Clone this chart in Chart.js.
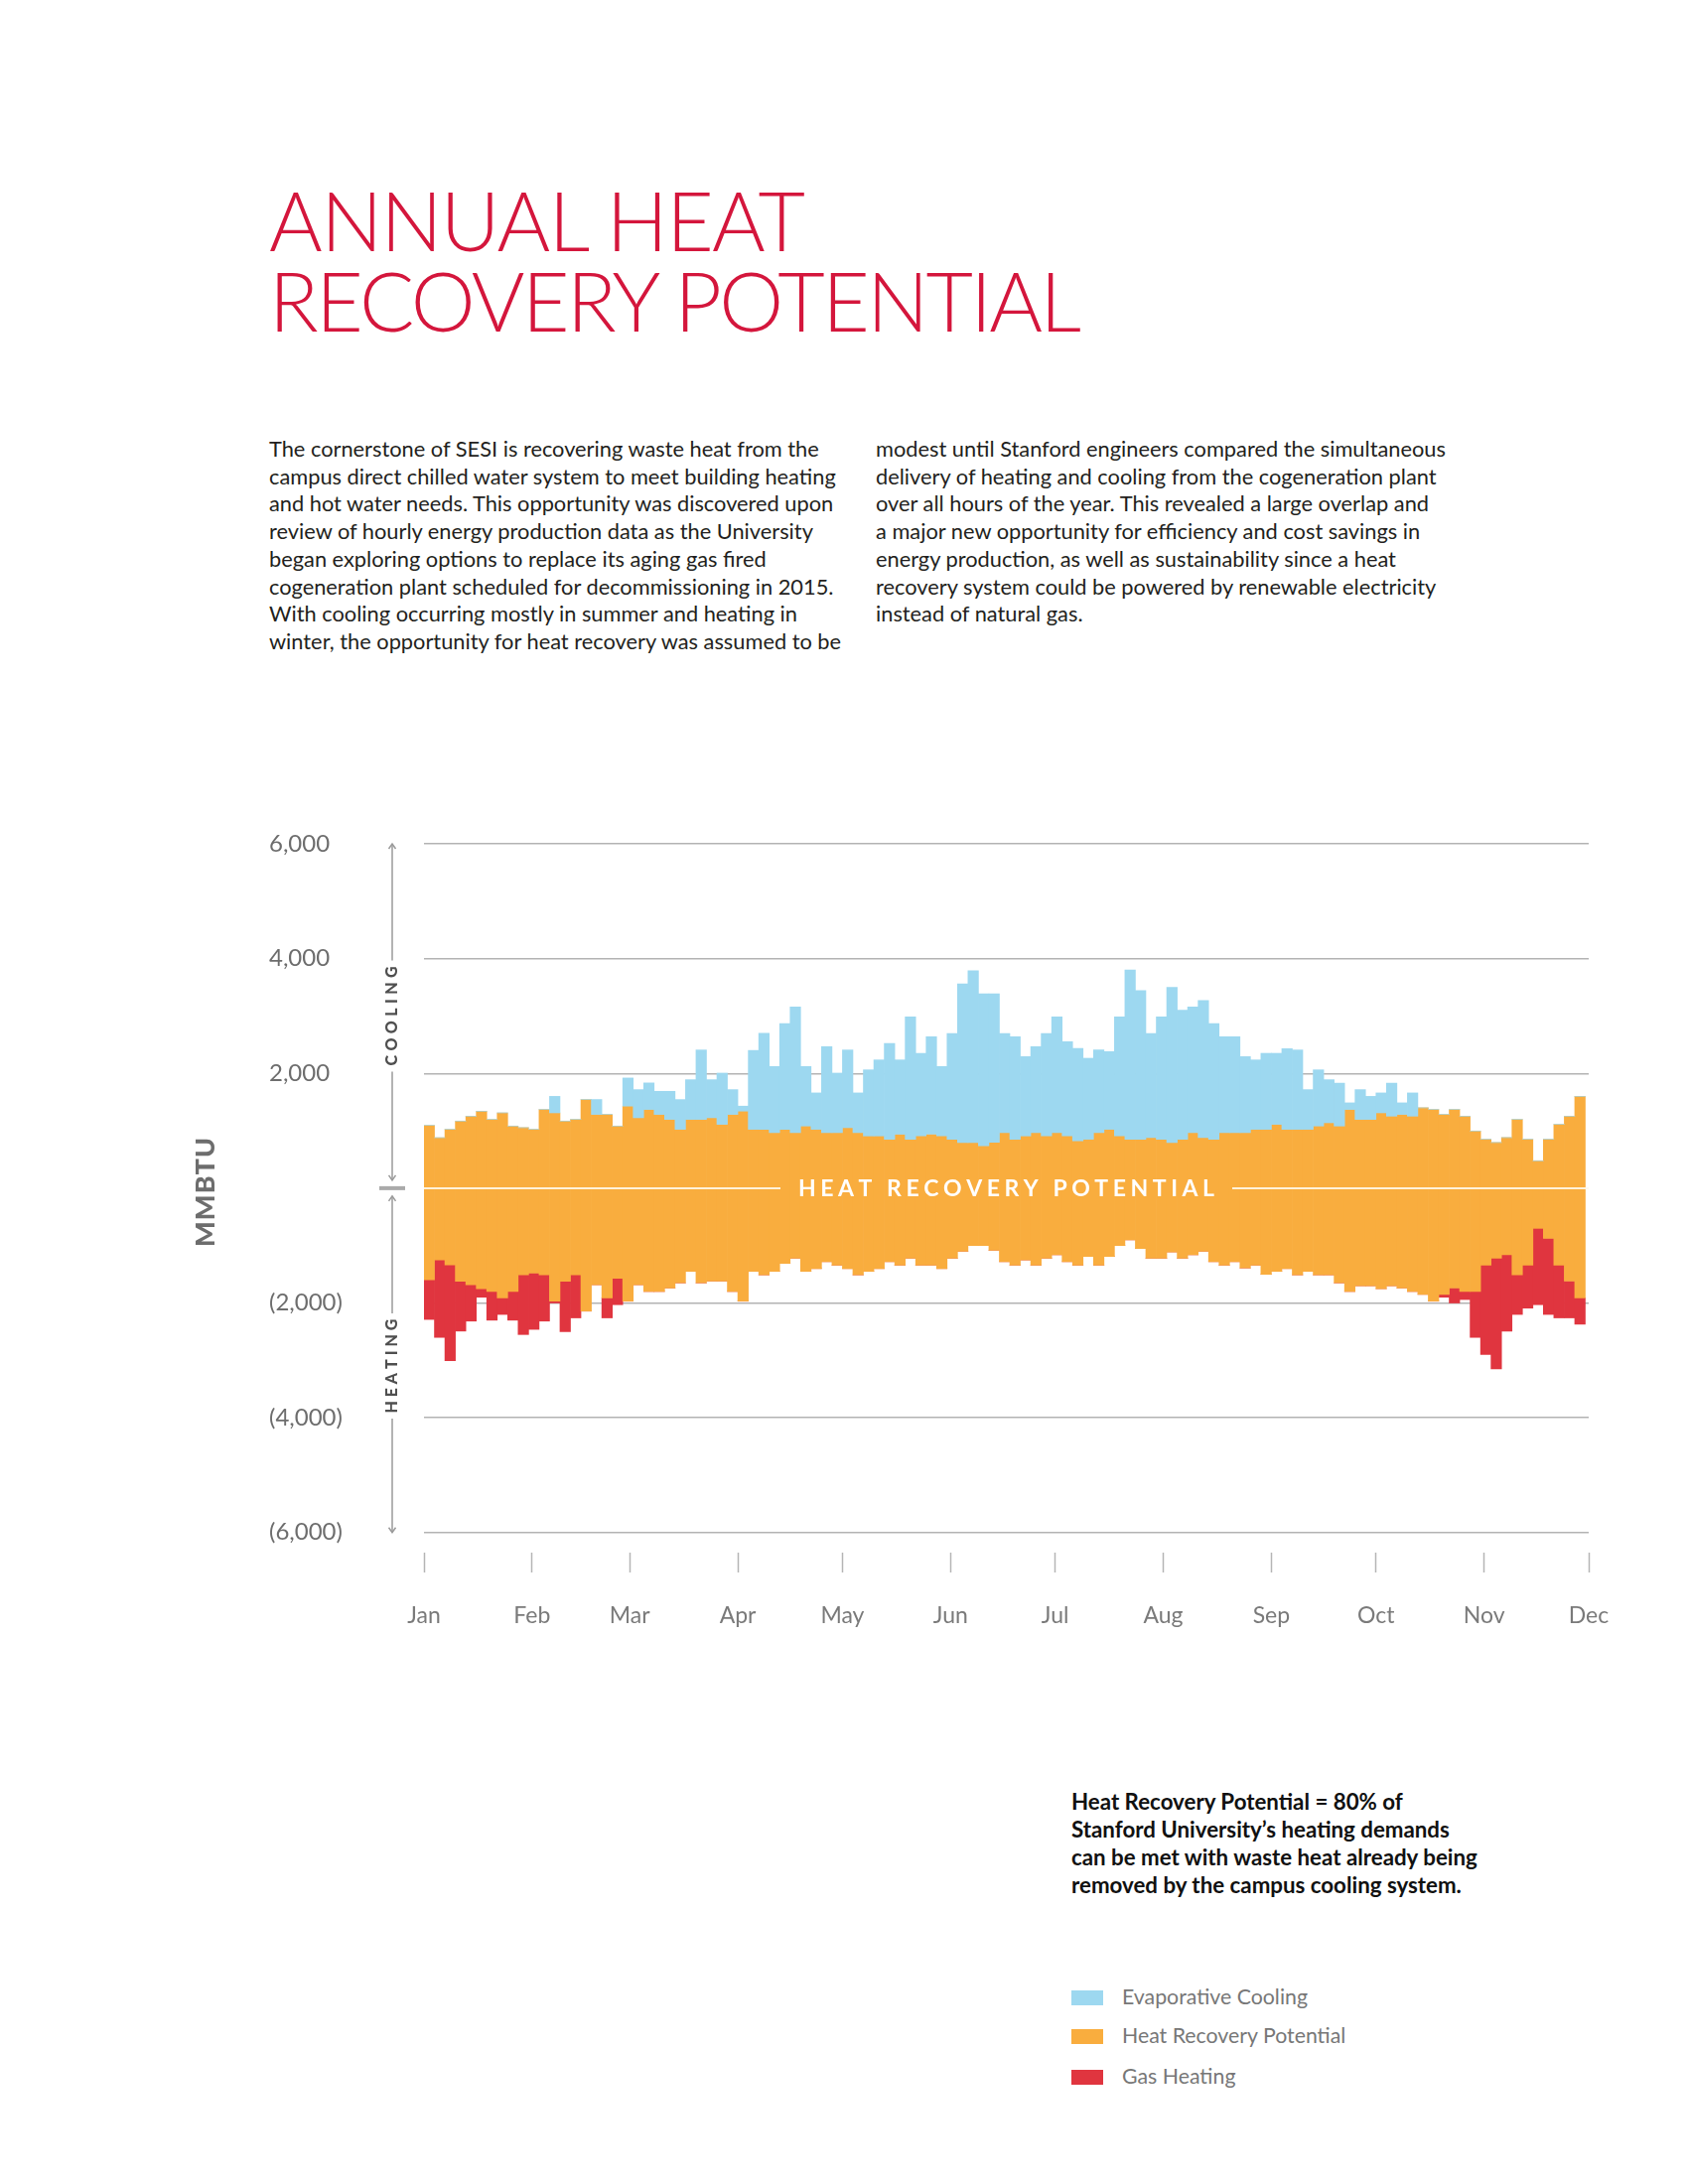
<!DOCTYPE html>
<html>
<head>
<meta charset="utf-8">
<script src="https://cdn.jsdelivr.net/npm/chart.js@4/dist/chart.umd.min.js"></script>
<style>
  body { margin: 0; background: #fff; }
  #page { position: relative; width: 1700px; height: 2200px; font-family: Lato, "Noto Sans", sans-serif; }
  #title { position: absolute; left: 271px; top: 181px; font-size: 82px; font-weight: 300; line-height: 81px; color: #d4163c; white-space: nowrap; }
  #title span { display: inline-block; }
  .col { position: absolute; top: 438px; font-size: 21.8px; line-height: 27.7px; color: #231f20; white-space: nowrap; }
  #note { position: absolute; left: 1079px; top: 1801px; font-size: 22.3px; line-height: 28px; font-weight: 700; color: #111; white-space: nowrap; }
  .leg { position: absolute; left: 1079px; height: 28px; line-height: 28px; font-size: 21.3px; color: #777; white-space: nowrap; }
  .leg i { display: inline-block; width: 32px; height: 15px; margin-right: 19px; vertical-align: -1px; }
  #chart { position: absolute; left: 0; top: 780px; }
</style>
</head>
<body>
<div id="page">
  <div id="title"><span id="t1">ANNUAL HEAT</span><br><span id="t2">RECOVERY POTENTIAL</span></div>

  <div class="col" style="left:271px">The cornerstone of SESI is recovering waste heat from the<br>campus direct chilled water system to meet building heating<br>and hot water needs. This opportunity was discovered upon<br>review of hourly energy production data as the University<br>began exploring options to replace its aging gas fired<br>cogeneration plant scheduled for decommissioning in 2015.<br>With cooling occurring mostly in summer and heating in<br>winter, the opportunity for heat recovery was assumed to be</div>
  <div class="col" style="left:882px">modest until Stanford engineers compared the simultaneous<br>delivery of heating and cooling from the cogeneration plant<br>over all hours of the year. This revealed a large overlap and<br>a major new opportunity for efficiency and cost savings in<br>energy production, as well as sustainability since a heat<br>recovery system could be powered by renewable electricity<br>instead of natural gas.</div>

  <canvas id="chart" width="1700" height="900"></canvas>

  <div id="note">Heat Recovery Potential = 80% of<br>Stanford University’s heating demands<br>can be met with waste heat already being<br>removed by the campus cooling system.</div>

  <div class="leg" style="top:1997px"><i style="background:#9dd8f0"></i>Evaporative Cooling</div>
  <div class="leg" style="top:2036px"><i style="background:#f9ad3e"></i>Heat Recovery Potential</div>
  <div class="leg" style="top:2077px"><i style="background:#e0353f"></i>Gas Heating</div>
</div>

<script>
// 3-day bins starting Jan 1, values in MMBTU
const binDays = 3;

const monthLabels = ["Jan", "Feb", "Mar", "Apr", "May", "Jun", "Jul", "Aug", "Sep", "Oct", "Nov", "Dec"];
const monthStarts = [0, 31, 59, 90, 120, 151, 181, 212, 243, 273, 304, 334];
const yTicks = [6000, 4000, 2000, 0, -2000, -4000, -6000];

// top of total cooling (blue top)
const coolingTop = [
  1095, 880, 1025, 1170, 1255, 1340, 1200, 1313, 1083, 1054, 1025, 1370, 1600, 1170, 1200, 1545, 1545, 1285, 1083, 1920,
  1717, 1834, 1688, 1688, 1544, 1890, 2408, 1890, 2005, 1717, 1430, 2400, 2700, 2120, 2868, 3157, 2120, 1660, 2465, 2005,
  2408, 1660, 2062, 2235, 2523, 2235, 2984, 2350, 2638, 2120, 2696, 3560, 3790, 3387, 3387, 2696, 2638, 2292, 2465, 2696,
  2984, 2552, 2436, 2264, 2408, 2379, 2984, 3800, 3445, 2696, 2984, 3500, 3100, 3157, 3270, 2868, 2638, 2638, 2292, 2235,
  2350, 2350, 2430, 2408, 1717, 2062, 1890, 1830, 1487, 1717, 1600, 1660, 1830, 1487, 1660, 1400, 1371, 1285, 1371, 1255,
  997, 852, 795, 881, 1198, 852, 478, 852, 1112, 1255, 1600
];

// top of heat recovery potential (orange top)
const recoveryTop = [
  1095, 880, 1025, 1170, 1255, 1340, 1200, 1313, 1083, 1054, 1025, 1370, 1313, 1170, 1200, 1545, 1285, 1285, 1083, 1430,
  1227, 1371, 1285, 1198, 1025, 1198, 1198, 1227, 1112, 1285, 1343, 1025, 1025, 968, 1025, 968, 1083, 1025, 968, 968,
  1054, 968, 910, 910, 852, 940, 852, 910, 940, 910, 852, 795, 795, 737, 800, 968, 852, 910, 968, 910,
  968, 910, 824, 852, 968, 1025, 910, 852, 852, 881, 852, 795, 852, 968, 881, 852, 968, 968, 968, 1025,
  1025, 1112, 1025, 1025, 1025, 1083, 1140, 1083, 1371, 1198, 1198, 1313, 1255, 1285, 1255, 1400, 1371, 1285, 1371, 1255,
  997, 852, 795, 881, 1198, 852, 478, 852, 1112, 1255, 1600
];

// bottom of heat recovery potential (orange bottom)
const recoveryBottom = [
  -1595, -1250, -1336, -1624, -1682, -1750, -1800, -1910, -1800, -1510, -1480, -1510, -1970, -1624, -1510, -2143, -1682, -1912, -1570, -1970,
  -1682, -1800, -1800, -1740, -1650, -1450, -1650, -1620, -1620, -1800, -1970, -1450, -1510, -1450, -1310, -1220, -1450, -1400, -1280, -1340,
  -1400, -1510, -1450, -1400, -1280, -1340, -1220, -1340, -1340, -1400, -1220, -1100, -1000, -1000, -1080, -1280, -1340, -1250, -1340, -1220,
  -1160, -1280, -1340, -1190, -1340, -1190, -1000, -900, -1050, -1220, -1220, -1110, -1220, -1160, -1100, -1280, -1340, -1280, -1390, -1340,
  -1500, -1450, -1400, -1510, -1450, -1510, -1510, -1650, -1800, -1700, -1700, -1750, -1700, -1740, -1800, -1850, -1970, -1850, -1740, -1800,
  -1800, -1340, -1220, -1160, -1510, -1340, -700, -875, -1340, -1620, -1910
];

// bottom of total heating (red bottom)
const heatingBottom = [
  -2287, -2600, -3007, -2490, -2316, -1900, -2300, -2200, -2300, -2550, -2460, -2316, -2000, -2500, -2260, -2143, -1682, -2260, -2030, -1970,
  -1682, -1800, -1800, -1740, -1650, -1450, -1650, -1620, -1620, -1800, -1970, -1450, -1510, -1450, -1310, -1220, -1450, -1400, -1280, -1340,
  -1400, -1510, -1450, -1400, -1280, -1340, -1220, -1340, -1340, -1400, -1220, -1100, -1000, -1000, -1080, -1280, -1340, -1250, -1340, -1220,
  -1160, -1280, -1340, -1190, -1340, -1190, -1000, -900, -1050, -1220, -1220, -1110, -1220, -1160, -1100, -1280, -1340, -1280, -1390, -1340,
  -1500, -1450, -1400, -1510, -1450, -1510, -1510, -1650, -1800, -1700, -1700, -1750, -1700, -1740, -1800, -1850, -1970, -1900, -2000, -1940,
  -2600, -2900, -3150, -2490, -2200, -2090, -2030, -2200, -2260, -2260, -2370
];

const BLUE = "#9dd8f0";
const ORANGE = "#f9ad3e";
const RED = "#e0353f";

function fitLine(id, target) {
  const el = document.getElementById(id);
  el.style.letterSpacing = "0px";
  const w = el.getBoundingClientRect().width;
  const n = el.textContent.length - 1;
  el.style.letterSpacing = ((target - w) / n) + "px";
}

function spacedText(ctx, text, cx, cy, width) {
  const chars = [...text];
  const natural = chars.reduce((s, c) => s + ctx.measureText(c).width, 0);
  const gap = (width - natural) / (chars.length - 1);
  let x = cx - width / 2;
  ctx.textAlign = "left";
  ctx.textBaseline = "middle";
  chars.forEach(c => {
    ctx.fillText(c, x, cy);
    x += ctx.measureText(c).width + gap;
  });
}

function rotatedText(ctx, text, cx, cy, width) {
  ctx.save();
  ctx.translate(cx, cy);
  ctx.rotate(-Math.PI / 2);
  spacedText(ctx, text, 0, 0, width);
  ctx.restore();
}

function arrowHead(ctx, x, y, dir) {
  ctx.beginPath();
  ctx.moveTo(x - 3.5, y - dir * 5);
  ctx.lineTo(x, y);
  ctx.lineTo(x + 3.5, y - dir * 5);
  ctx.stroke();
}

const decor = {
  id: "decor",
  afterDatasetsDraw(chart) {
    const ctx = chart.ctx;
    const ca = chart.chartArea;
    const y0 = chart.scales.y.getPixelForValue(0);
    const cx = (ca.left + ca.right) / 2;
    const labelW = 419;

    ctx.save();
    ctx.strokeStyle = "rgba(255,250,235,0.9)";
    ctx.lineWidth = 2;
    ctx.beginPath();
    ctx.moveTo(ca.left, y0);
    ctx.lineTo(cx - labelW / 2 - 18, y0);
    ctx.moveTo(cx + labelW / 2 + 18, y0);
    ctx.lineTo(ca.right, y0);
    ctx.stroke();

    ctx.fillStyle = "#ffffff";
    ctx.font = "700 23px Lato";
    spacedText(ctx, "HEAT RECOVERY POTENTIAL", cx, y0 + 1, labelW);
    ctx.restore();
  },
  afterDraw(chart) {
    const ctx = chart.ctx;
    const ca = chart.chartArea;
    const ys = chart.scales.y;
    const ax = ca.left - 32;
    const top = ys.getPixelForValue(6000);
    const bottom = ys.getPixelForValue(-6000);
    const y0 = ys.getPixelForValue(0);
    const yCool = ys.getPixelForValue(3000);
    const yHeat = ys.getPixelForValue(-3100);

    ctx.save();
    ctx.strokeStyle = "#9a9a9a";
    ctx.lineWidth = 1.5;
    ctx.beginPath();
    ctx.moveTo(ax, top);
    ctx.lineTo(ax, yCool - 56);
    ctx.moveTo(ax, yCool + 56);
    ctx.lineTo(ax, y0 - 8);
    ctx.moveTo(ax, y0 + 8);
    ctx.lineTo(ax, yHeat - 53);
    ctx.moveTo(ax, yHeat + 53);
    ctx.lineTo(ax, bottom);
    ctx.stroke();
    arrowHead(ctx, ax, top, -1);
    arrowHead(ctx, ax, y0 - 8, 1);
    arrowHead(ctx, ax, y0 + 8, -1);
    arrowHead(ctx, ax, bottom, 1);

    ctx.strokeStyle = "#aaaaaa";
    ctx.lineWidth = 4;
    ctx.beginPath();
    ctx.moveTo(ax - 13, y0);
    ctx.lineTo(ax + 13, y0);
    ctx.stroke();

    ctx.fillStyle = "#4f4f4f";
    ctx.font = "900 16px Lato";
    rotatedText(ctx, "COOLING", ax, yCool, 100);
    rotatedText(ctx, "HEATING", ax, yHeat, 95);

    ctx.fillStyle = "#6d6d6d";
    ctx.font = "900 27px Lato";
    rotatedText(ctx, "MMBTU", ca.left - 220, y0 + 4, 110);
    ctx.restore();
  }
};

function makeBars(low, high) {
  return low.map((v, i) => ({ x: i * binDays + binDays / 2, y: [v, high[i]] }));
}

function drawChart() {
  const ctx = document.getElementById("chart");

  new Chart(ctx, {
    type: "bar",
    data: {
      datasets: [
        { label: "Evaporative Cooling", data: makeBars(recoveryTop, coolingTop), backgroundColor: BLUE },
        { label: "Heat Recovery Potential", data: makeBars(recoveryBottom, recoveryTop), backgroundColor: ORANGE },
        { label: "Gas Heating", data: makeBars(heatingBottom, recoveryBottom), backgroundColor: RED }
      ]
    },
    options: {
      responsive: false,
      animation: false,
      layout: { padding: { left: 271, right: 100, top: 70, bottom: 0 } },
      datasets: {
        bar: { grouped: false, barPercentage: 1, categoryPercentage: 1, borderWidth: 0, borderSkipped: false }
      },
      plugins: { legend: { display: false }, tooltip: { enabled: false } },
      scales: {
        x: {
          type: "linear",
          min: 0,
          max: 334,
          offset: false,
          afterBuildTicks: s => { s.ticks = monthStarts.map(v => ({ value: v })); },
          afterFit: s => { s.height = 116; },
          grid: { offset: false, drawOnChartArea: false, drawTicks: true, tickLength: 20, tickColor: "#b5b5b5", tickWidth: 1.5 },
          border: { display: false },
          ticks: {
            autoSkip: false,
            maxRotation: 0,
            padding: 30,
            color: "#7a7a7a",
            font: { family: "Lato", size: 23 },
            callback: (v, i) => monthLabels[i]
          }
        },
        y: {
          min: -6350,
          max: 6000,
          afterBuildTicks: s => { s.ticks = yTicks.map(v => ({ value: v })); },
          afterFit: s => { s.width = 156; },
          grid: {
            drawTicks: false,
            lineWidth: 1.5,
            color: c => (c.tick && c.tick.value === 0 ? "rgba(0,0,0,0)" : "#b3b3b3")
          },
          border: { display: false },
          ticks: {
            crossAlign: "far",
            padding: 0,
            color: "#6d6d6d",
            font: { family: "Lato", size: 24 },
            callback: v => {
              if (v === 0) return "";
              const s = Math.abs(v).toLocaleString("en-US");
              return v < 0 ? "(" + s + ")" : s;
            }
          }
        }
      }
    },
    plugins: [decor]
  });
}

fitLine("t1", 540);
fitLine("t2", 818);
drawChart();
</script>
</body>
</html>
